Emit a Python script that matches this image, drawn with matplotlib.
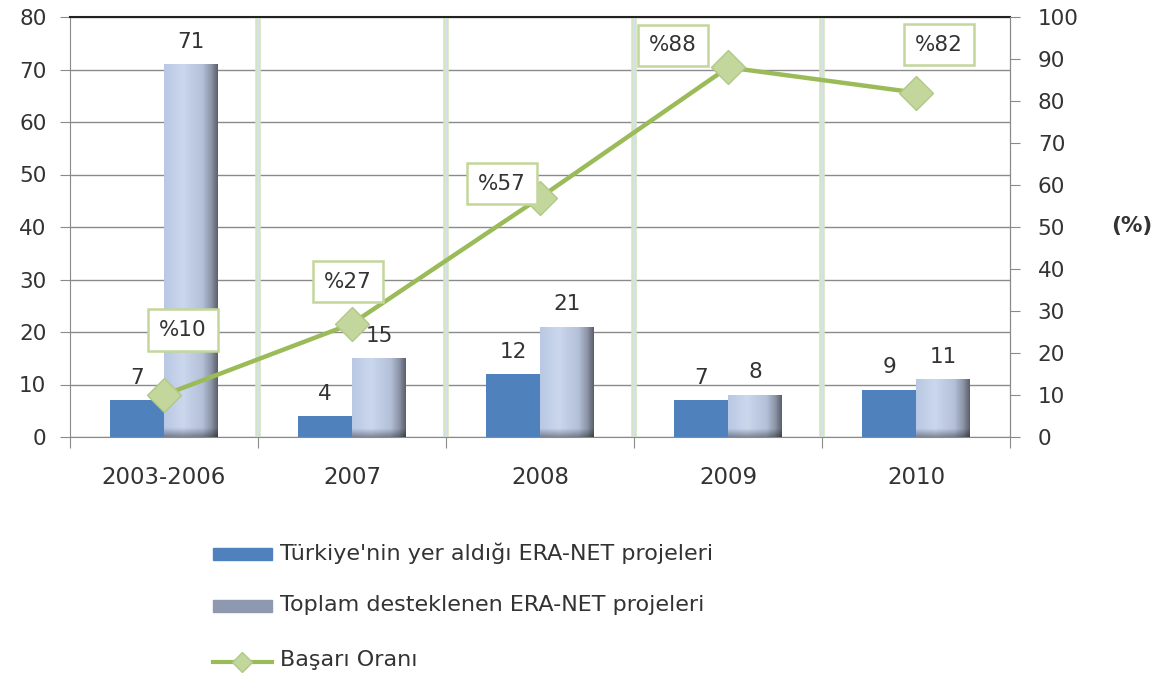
import numpy as np
import matplotlib.pyplot as plt
from matplotlib.colors import LinearSegmentedColormap
from matplotlib.patches import Rectangle
from matplotlib.lines import Line2D

plt.rcParams['font.family'] = ['DejaVu Sans']

categories = ["2003-2006", "2007", "2008", "2009", "2010"]
turkiye = [7, 4, 12, 7, 9]
toplam = [71, 15, 21, 8, 11]
basari = [10, 27, 57, 88, 82]
basari_labels = ["%10", "%27", "%57", "%88", "%82"]
# label offsets from the point, in pixels
label_offsets = [(19, 65), (-4, 42), (-38, 14), (-55, 22), (23, 48)]

blue = "#4f81bd"
green = "#9bbb59"
marker_face = "#c3d69b"
text_col = "#333333"
grid_col = "#8a8a8a"

fig = plt.figure(figsize=(11.63, 6.74), dpi=100)
fig.set_facecolor("white")
ax = fig.add_axes([70/1163, 1-437/674, 940/1163, 420/674])

x = np.arange(len(categories))
w = 0.287

bars1 = ax.bar(x - w/2, turkiye, w, color=blue, zorder=3)
bars2 = ax.bar(x + w/2, toplam, w, color="#c3d0e8", zorder=3)

# horizontal gradient of the "toplam" bars
grad = LinearSegmentedColormap.from_list("g", [(0, "#b9c8e4"), (0.35, "#cbd7ed"),
                                              (0.72, "#b3c0d8"), (0.88, "#8d96a8"),
                                              (1.0, "#5c616c")])
row = grad(np.linspace(0, 1, 64))[:, :3]
for b in bars2:
    h = b.get_height()
    ny = 200
    img = np.tile(row, (ny, 1, 1))
    band = min(1.6 / h, 0.5)
    yy = np.linspace(1, 0, ny)  # top -> bottom
    dark = np.clip((band - yy) / band, 0, 1) * 0.35
    img = img * (1 - dark[:, None, None])
    im = ax.imshow(img, extent=(b.get_x(), b.get_x() + b.get_width(), 0, h),
                   aspect="auto", zorder=4, interpolation="bilinear")
    im.set_clip_path(b)

for b, v in zip(list(bars1) + list(bars2), turkiye + toplam):
    ax.annotate(str(v), (b.get_x() + b.get_width()/2, b.get_height()),
                xytext=(0, 9), textcoords="offset points", ha="center", va="bottom",
                fontsize=15.5, color=text_col, zorder=6)

ax.set_xlim(-0.5, len(categories) - 0.5)
ax.set_ylim(0, 80)
ax.set_yticks(np.arange(0, 81, 10))
ax.yaxis.grid(True, color=grid_col, lw=1, zorder=0)
ax.set_axisbelow(True)
for xb in np.arange(0.5, len(categories) - 0.5, 1):
    ax.axvline(xb, color="#d6e5be", lw=4, zorder=1)
    ax.axvline(xb, color="#d5e0ee", lw=1.5, zorder=1)

ax.set_xticks(np.arange(-0.5, len(categories), 1), minor=False)
ax.set_xticklabels([])
ax.set_xticks(x, minor=True)
ax.set_xticklabels(categories, minor=True)
ax.tick_params(axis="x", which="major", length=8, color=grid_col, direction="out")
ax.tick_params(axis="x", which="minor", length=0, pad=21, labelsize=16.5, labelcolor=text_col)
ax.tick_params(axis="y", length=7, color=grid_col, labelsize=15.5, labelcolor=text_col, pad=10)
for s in ["left", "bottom", "right"]:
    ax.spines[s].set_color(grid_col)
ax.spines["top"].set_color("#222222")
ax.spines["top"].set_linewidth(1.5)

ax2 = ax.twinx()
ax2.plot(x, basari, color=green, lw=3.2, marker="D", markersize=17,
         markerfacecolor=marker_face, markeredgecolor="#b0c98a", markeredgewidth=1, zorder=5)
ax2.set_ylim(0, 100)
ax2.set_yticks(np.arange(0, 101, 10))
ax2.tick_params(axis="y", length=7, color=grid_col, labelsize=15.5, labelcolor=text_col, pad=13)
for s in ["left", "bottom", "right", "top"]:
    ax2.spines[s].set_visible(False)
ax2.spines["right"].set_visible(True)
ax2.spines["right"].set_color(grid_col)

for xi, v, lab, off in zip(x, basari, basari_labels, label_offsets):
    ax2.annotate(lab, (xi, v), xytext=off, textcoords="offset pixels",
                 ha="center", va="center", fontsize=15.5, color=text_col, zorder=7,
                 bbox=dict(boxstyle="square,pad=0.5", fc="white", ec=marker_face, lw=1.8))

fig.text(1132/1163, 1-226/674, "(%)", ha="center", va="center", fontsize=15.5,
         fontweight="bold", color=text_col)

# legend drawn in pixel space
lg = fig.add_axes([0, 0, 1, 1], zorder=-1)
lg.axis("off")
lg.add_patch(Rectangle((213, 548), 59, 12, color=blue))
r2 = Rectangle((213, 600), 59, 12, color="#8e99b0")
lg.add_patch(r2)
lrow = LinearSegmentedColormap.from_list("l", ["#7c8396", "#aab3c4", "#c9d2e2", "#8f97a6", "#5b606b"])
limg = np.tile(lrow(np.linspace(0, 1, 64))[:, :3], (8, 1, 1))
lim = lg.imshow(limg, extent=(213, 272, 612, 600), aspect="auto", interpolation="bilinear")
lim.set_clip_path(r2)
lg.set_xlim(0, 1163)
lg.set_ylim(674, 0)
lg.add_line(Line2D([213, 272], [662, 662], color=green, lw=3))
lg.plot([242], [662], marker="D", markersize=10, markerfacecolor=marker_face,
        markeredgecolor="#b0c98a")
labels = ["Türkiye'nin yer aldığı ERA-NET projeleri", "Toplam desteklenen ERA-NET projeleri",
          "Başarı Oranı"]
for yy, t in zip([553, 605, 660], labels):
    lg.text(280, yy, t, ha="left", va="center", fontsize=16, color=text_col)

fig.savefig("out.png", dpi=100)
